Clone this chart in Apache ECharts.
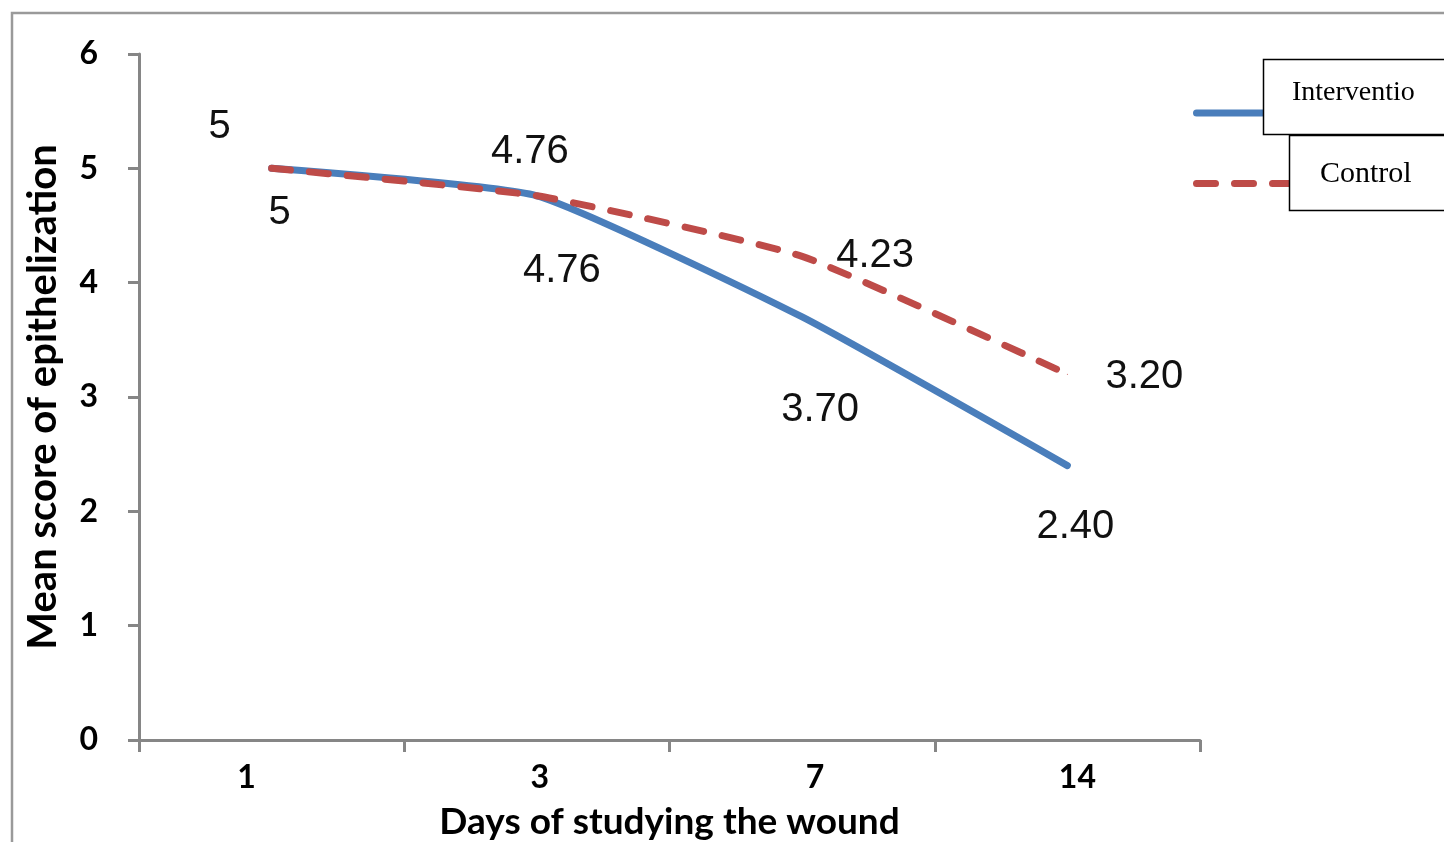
<!DOCTYPE html>
<html>
<head>
<meta charset="utf-8">
<script src="https://cdn.jsdelivr.net/npm/echarts@6/dist/echarts.min.js"></script>
<style>
html,body{margin:0;padding:0;background:#fff;}
#chart{width:1444px;height:842px;}
</style>
</head>
<body>
<div id="chart"></div>
<script>
const days = ['1', '3', '7', '14'];
const intervention = [5, 4.76, 3.70, 2.40];
const control = [5, 4.76, 4.23, 3.20];
const seriesNames = ['Intervention', 'Control'];
const legendTexts = ['Interventio', 'Control'];
const yTicks = { min: 0, max: 6, interval: 1 };
const xAxisName = 'Days of studying the wound';
const yAxisName = 'Mean score of epithelization';

// label layout (offsets in px from each point), kept apart from data
const interventionLabelOffsets = [[8, 45], [25, 75], [18, 93], [8, 61]];
const controlLabelOffsets = [[-52, -41], [-7, -44], [73, 0], [77, 3]];
const xLabelShifts = [-25, 3, 13, 10];

const fmt = v => (v === 5 ? '5' : v.toFixed(2));
const labelFont = { fontFamily: 'Liberation Sans, Arial, sans-serif', fontSize: 40, color: '#111' };
const tickFont = { fontFamily: 'Lato, sans-serif', fontWeight: 'bold', fontSize: 32, color: '#000' };

function buildData(values, offsets) {
  return values.map((v, i) => ({
    value: v,
    label: { offset: offsets[i] }
  }));
}

const xRich = {};
xLabelShifts.forEach((s, i) => {
  xRich['c' + i] = Object.assign({}, tickFont, {
    padding: s >= 0 ? [0, 0, 0, 2 * s] : [0, -2 * s, 0, 0]
  });
});

const chart = echarts.init(document.getElementById('chart'));
chart.setOption({
  animation: false,
  backgroundColor: '#fff',
  grid: { left: 139, right: 244, top: 54, bottom: 102, containLabel: false, outerBoundsMode: 'none' },
  xAxis: {
    type: 'category',
    data: days,
    boundaryGap: true,
    name: xAxisName,
    nameLocation: 'middle',
    nameGap: 64,
    nameTextStyle: { fontFamily: 'Lato, sans-serif', fontWeight: 'bold', fontSize: 37, color: '#000' },
    axisLine: { lineStyle: { color: '#868686', width: 3 } },
    axisTick: { show: true, length: 12, alignWithLabel: false, lineStyle: { color: '#868686', width: 3 } },
    axisLabel: Object.assign({
      margin: 22,
      formatter: (v, i) => '{c' + i + '|' + v + '}',
      rich: xRich
    }, tickFont),
    splitLine: { show: false }
  },
  yAxis: {
    type: 'value',
    min: yTicks.min,
    max: yTicks.max,
    interval: yTicks.interval,
    name: yAxisName,
    nameLocation: 'middle',
    nameGap: 76,
    nameRotate: 90,
    nameTextStyle: { fontFamily: 'Lato, sans-serif', fontWeight: 'bold', fontSize: 40, color: '#000' },
    axisLine: { show: true, lineStyle: { color: '#868686', width: 3 } },
    axisTick: { show: true, length: 11, lineStyle: { color: '#868686', width: 3 } },
    axisLabel: Object.assign({ margin: 41 }, tickFont),
    splitLine: { show: false }
  },
  legend: {
    orient: 'vertical',
    left: 1193,
    top: 106,
    padding: 0,
    itemWidth: 97,
    itemHeight: 14,
    itemGap: 58,
    data: seriesNames,
    formatter: () => '',
    textStyle: { fontSize: 1 },
    itemStyle: { opacity: 0 },
    lineStyle: { width: 7, cap: 'round' },
    selectedMode: false
  },
  series: [
    {
      name: seriesNames[0],
      type: 'line',
      data: buildData(intervention, interventionLabelOffsets),
      symbol: 'circle',
      symbolSize: 1,
      showSymbol: true,
      smooth: 0.15,
      lineStyle: { color: '#4A7EBB', width: 7, cap: 'round', join: 'round' },
      itemStyle: { color: '#4A7EBB' },
      label: Object.assign({ show: true, position: 'inside', formatter: p => fmt(p.value) }, labelFont),
      z: 2
    },
    {
      name: seriesNames[1],
      type: 'line',
      data: buildData(control, controlLabelOffsets),
      symbol: 'circle',
      symbolSize: 1,
      showSymbol: true,
      smooth: 0.15,
      lineStyle: { color: '#BE4B48', width: 7, type: [19, 19], cap: 'round', join: 'round' },
      itemStyle: { color: '#BE4B48' },
      label: Object.assign({ show: true, position: 'inside', formatter: p => fmt(p.value) }, labelFont),
      z: 3
    }
  ],
  graphic: [
    { type: 'rect', silent: true, z: 0, shape: { x: 12, y: 13, width: 1600, height: 1000 }, style: { fill: null, stroke: '#9a9a9a', lineWidth: 2.5 } },
    { type: 'rect', silent: true, z: 100, shape: { x: 1263.5, y: 59.5, width: 300, height: 75 }, style: { fill: '#fff', stroke: '#000', lineWidth: 1.5 } },
    { type: 'rect', silent: true, z: 100, shape: { x: 1289.5, y: 135.5, width: 300, height: 75 }, style: { fill: '#fff', stroke: '#000', lineWidth: 1.5 } },
    { type: 'text', silent: true, z: 101, left: 1292, top: 79, style: { text: legendTexts[0], font: '28px "Liberation Serif", "Times New Roman", serif', fill: '#000' } },
    { type: 'text', silent: true, z: 101, left: 1320, top: 159, style: { text: legendTexts[1], font: '30px "Liberation Serif", "Times New Roman", serif', fill: '#000' } }
  ]
});
</script>
</body>
</html>
